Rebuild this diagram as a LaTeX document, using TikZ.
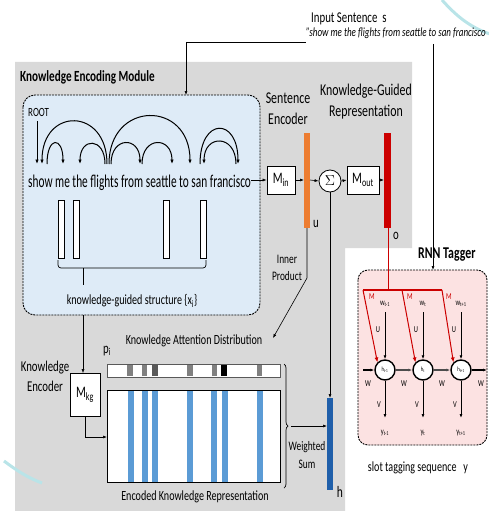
\documentclass[tikz,border=0pt]{standalone}
\usepackage{fontspec}
\setmainfont{Carlito}[FakeStretch=0.72]
\newfontfamily\wordfont{Carlito}[FakeStretch=0.63]
\usetikzlibrary{arrows.meta,positioning,decorations.pathreplacing}

\definecolor{bggray}{RGB}{217,217,217}
\definecolor{kbblue}{RGB}{222,235,247}
\definecolor{rnnpink}{RGB}{252,226,226}
\definecolor{encorange}{RGB}{237,125,49}
\definecolor{outred}{RGB}{204,0,0}
\definecolor{kblue}{RGB}{91,155,213}
\definecolor{hblue}{RGB}{31,95,170}
\definecolor{deco}{RGB}{185,228,232}

\tikzset{
  arr/.style={-{Latex[length=4pt,width=3pt]}, line width=0.6pt},
  deparc/.style={-{Latex[length=4.5pt,width=3.5pt]}, line width=1pt},
  redarr/.style={-{Latex[length=5pt,width=4pt]}, line width=1pt, outred},
  modbox/.style={dash pattern=on 2pt off 1pt, line width=0.9pt},
  mbox/.style={draw, line width=0.8pt, fill=white, minimum width=28pt, minimum height=28pt, inner sep=0pt, font=\fontsize{16}{17}\selectfont},
  hnode/.style={draw, circle, line width=1.4pt, fill=white, minimum size=20pt, inner sep=0pt, font=\fontsize{6.5}{7}\selectfont},
  lbl/.style={inner sep=1pt, font=\fontsize{15}{16}\selectfont},
  small/.style={inner sep=1pt, font=\fontsize{14}{15}\selectfont},
  tiny/.style={inner sep=0.5pt, font=\fontsize{9}{9}\selectfont},
}

\begin{document}
\begin{tikzpicture}[x=1pt, y=-1pt]
\useasboundingbox (0,0) rectangle (488,511);

% gray panel
\fill[bggray] (15,62) -- (412,62) -- (412,248) -- (345,248) -- (345,511) -- (15,511) -- cycle;

% decoration arcs
\draw[deco, line width=3pt] (442,0) .. controls (458,18) and (472,28) .. (490,34);
\draw[deco, line width=3pt] (4,461) .. controls (16,470) and (28,478) .. (42,483);

% input sentence
\node[lbl, anchor=west] (insent) at (310,19) {Input Sentence~~s};
\node[inner sep=0pt, anchor=west, font=\fontsize{12.5}{13}\itshape] (quote) at (306,33) {"show me the flights from seattle to san francisco};
\coordinate (qleft) at (306,42);
\coordinate (qdown) at (433,44);
\coordinate (ktop) at (186,42);

% knowledge encoding module
\node[inner sep=0pt, anchor=west, font=\fontsize{15.5}{16}\bfseries] (kemtitle) at (20,77) {Knowledge Encoding Module};
\draw[modbox, rounded corners=12pt, fill=kbblue] (23,95) rectangle (260,315);
\node[inner sep=1pt, anchor=west, font=\fontsize{12.5}{13}\selectfont] (root) at (27,112) {ROOT};

% dependency arcs
\def\fy{164}
\draw[deparc] (37,121) -- (37,\fy);
\draw[deparc] (107,\fy) .. controls +(0,-57) and +(0,-57) .. (42,\fy);
\draw[deparc] (47,\fy) .. controls +(0,-28) and +(0,-28) .. (63,\fy);
\draw[deparc] (105,\fy) .. controls +(0,-27) and +(0,-27) .. (80,\fy);
\draw[deparc] (109,\fy) .. controls +(0,-64) and +(0,-64) .. (190,\fy);
\draw[deparc] (111,\fy) .. controls +(0,-28) and +(0,-28) .. (140,\fy);
\draw[deparc] (142,\fy) .. controls +(0,-28) and +(0,-28) .. (172,\fy);
\draw[deparc] (200,\fy) .. controls +(0,-47) and +(0,-47) .. (238,\fy);
\draw[deparc] (236,\fy) .. controls +(0,-30) and +(0,-30) .. (204,\fy);

\node[inner sep=0pt, anchor=west, font=\wordfont\fontsize{18}{19}\selectfont] (sent) at (28,183) {show me the flights from seattle to san francisco};

% knowledge-guided structure
\foreach \x in {61,76,166,203} {
  \draw[fill=white, line width=0.7pt] (\x-3,200) rectangle (\x+3,258);
}
\draw[line width=0.7pt, rounded corners=3pt] (58,260) -- (58,268) -- (206,268) -- (206,260);
\draw[line width=0.7pt] (83,268) -- (83,285);
\node[small] (kgs) at (132,301) {knowledge-guided structure \{x\textsubscript{i}\}};

% sentence encoder
\node[align=center, inner sep=1pt, font=\fontsize{16.5}{21}\selectfont] (senc) at (288,109) {Sentence\\Encoder};
\node[align=center, inner sep=1pt, font=\fontsize{16.5}{21}\selectfont] (kgr) at (366,102) {Knowledge-Guided\\Representation};
\node[mbox] (min) at (281,180) {M\textsubscript{in}};
\fill[encorange] (304,133) rectangle (310,228);
\coordinate (ubar) at (307,180);
\coordinate (ubot) at (307,228);
\node[draw, circle, line width=0.8pt, fill=white, minimum size=22pt, inner sep=0pt, font=\fontsize{15}{15}\selectfont] (sum) at (330,181) {$\Sigma$};
\node[mbox, minimum width=32pt] (mout) at (363,180) {M\textsubscript{out}};
\fill[outred] (384,133) rectangle (391,228);
\coordinate (obar) at (384,180);
\coordinate (obot) at (388,228);
\node[lbl] (ulbl) at (316,224) {u};
\node[lbl] (olbl) at (396,236) {o};

\draw[arr] (sent.east |- min.west) -- (min.west);
\draw[arr] (min.east) -- (304,180);
\draw[arr] (310,180) -- (sum.west);
\draw[arr] (sum.east) -- (mout.west);
\draw[arr] (mout.east) -- (obar);

% inner product
\coordinate (ipbend) at (307,278);
\coordinate (iptip) at (273,338);
\draw[arr] (ubot) -- (ipbend) -- (iptip);
\node[small, align=center, font=\fontsize{13}{14}\selectfont] (inner) at (287,268) {Inner\\[3pt]Product};

% knowledge encoder
\node[align=center, inner sep=1pt, font=\fontsize{15}{20}\selectfont] (kenc) at (45,376) {Knowledge\\Encoder};
\node[mbox, minimum width=30pt, minimum height=43pt] (mkg) at (85,395) {M\textsubscript{kg}};
\draw[arr] (83,315) -- (mkg.north -| 83,0);
\coordinate (mibend) at (85,437);
\draw[arr] (mkg.south -| 85,0) -- (mibend) -- (107,437);
\node[lbl] (mi) at (116,441) {m\textsubscript{i}};

% attention distribution
\node[lbl] (pi) at (107,351) {p\textsubscript{i}};
\node[small] (katt) at (194,341) {Knowledge Attention Distribution};
\draw[fill=white, line width=0.8pt, draw=gray!70!black] (107,364) rectangle (280,377);
\foreach \a/\b/\c in {127/133/gray, 142/147/gray, 152/158/gray!70!black, 187/193/gray, 212/217/gray, 221/227/black, 257/262/gray} {
  \fill[\c] (\a,365) rectangle (\b,376);
}

% encoded knowledge
\draw[fill=white, line width=0.8pt] (107,390) rectangle (280,482);
\foreach \x in {131,145,155,190,214,225,260} {
  \fill[kblue] (\x-3,390.5) rectangle (\x+3,481.5);
}
\node[small] (ekr) at (195,497) {Encoded Knowledge Representation};
\draw[line width=0.7pt, decorate, decoration={brace, amplitude=4pt}] (284,364) -- (284,488);
\coordinate (brtip) at (291,426);

% weighted sum
\fill[hblue] (327,398) rectangle (333,490);
\coordinate (htop) at (330,398);
\coordinate (hleft) at (327,426);
\draw[arr] (brtip) -- (hleft);
\draw[arr] (sum.south) -- (htop);
\node[small, align=center, font=\fontsize{13}{14}\selectfont] (wsum) at (307,455) {Weighted\\[4pt]Sum};
\node[lbl, font=\fontsize{16}{16}\selectfont] (hlbl) at (340,492) {h};

% RNN tagger
\node[inner sep=0pt, anchor=west, font=\fontsize{16.5}{17}\bfseries] (rnntitle) at (418,255) {RNN Tagger};
\draw[modbox, rounded corners=10pt, fill=rnnpink] (358,270) rectangle (487,445);
\draw[arr] (qdown) -- (433,270);
\draw[line width=0.6pt] (ktop) -- (qleft);
\draw[arr] (ktop) -- (186,95);

\node[hnode] (h1) at (385,370) {h\textsubscript{t-1}};
\node[hnode] (h2) at (423,370) {h\textsubscript{t}};
\node[hnode] (h3) at (461,370) {h\textsubscript{t+1}};

\foreach \n/\s/\x in {h1/t-1/385, h2/t/423, h3/t+1/461} {
  \node[tiny] (w\n) at (\x,304) {w\textsubscript{\s}};
  \draw[arr, line width=1pt] (\x,312) -- (\n.north);
  \node[tiny] (u\n) at (\x-7,330) {U};
  \draw[arr, line width=1pt] (\n.south) -- (\x,418);
  \node[tiny] (v\n) at (\x-6,405) {V};
  \node[tiny] (y\n) at (\x,433) {y\textsubscript{\s}};
}
\draw[arr, line width=1.6pt] (363,370) -- (h1.west);
\draw[arr, line width=1.6pt, draw=black!70] (h1.east) -- (h2.west);
\draw[arr, line width=1.6pt, draw=black!70] (h2.east) -- (h3.west);
\draw[arr, line width=1.6pt] (h3.east) -- (487,370);
\foreach \x in {368,404,442,481} {
  \node[tiny] at (\x,384) {W};
}

% red connections
\coordinate (rl) at (363,290);
\coordinate (rm) at (402,290);
\coordinate (rr) at (442,290);
\draw[outred, line width=1pt] (obot) -- (388,290);
\draw[outred, line width=1.2pt] (rl) -- (rr);
\draw[redarr] (rl) -- (h1.135);
\draw[redarr] (rm) -- (h2.135);
\draw[redarr] (rr) -- (h3.135);
\foreach \x in {372,410,449} {
  \node[tiny, outred] at (\x,297) {M};
}

\node[lbl, font=\fontsize{14}{15}\selectfont] (slot) at (418,468) {slot tagging sequence~~~y};
\end{tikzpicture}
\end{document}
